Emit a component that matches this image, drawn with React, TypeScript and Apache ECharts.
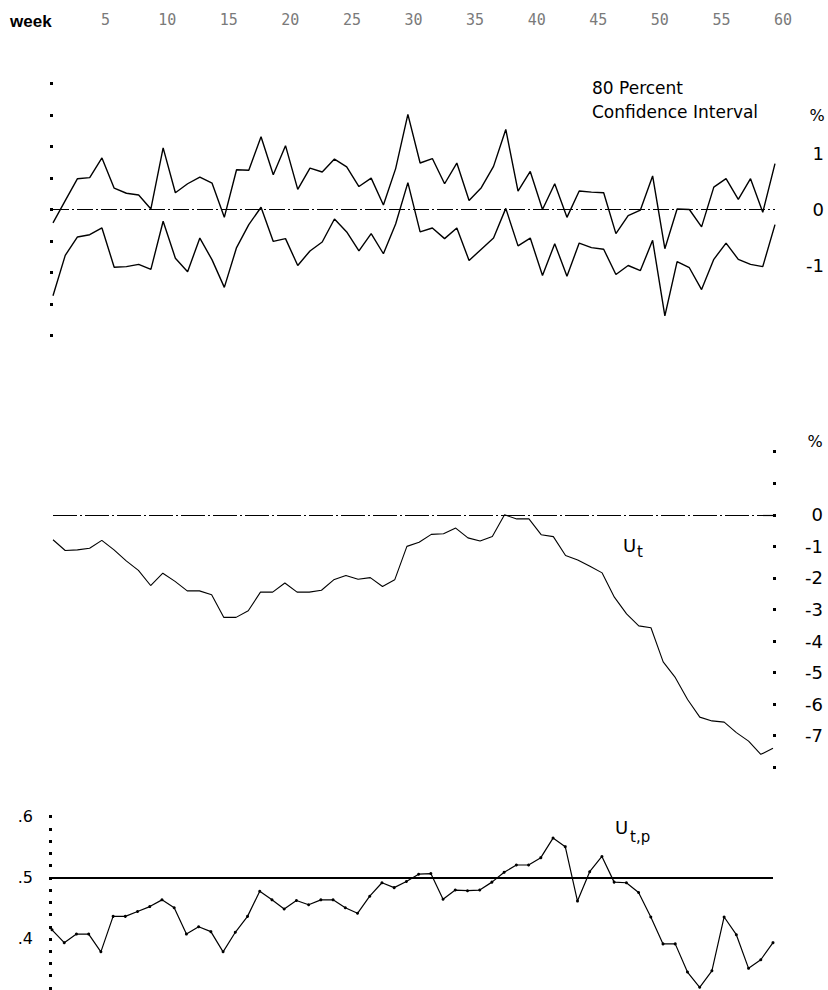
import React, { useEffect, useRef } from "react";
import * as echarts from "echarts";

// ---- data ----
const weeks: number[] = Array.from({ length: 60 }, (_, i) => i + 1);
const weekTicks: number[] = [5, 10, 15, 20, 25, 30, 35, 40, 45, 50, 55, 60];

// 80 percent confidence interval (%)
const upperCI: number[] = [
  -0.24, 0.16, 0.55, 0.57, 0.92, 0.38, 0.29, 0.26, 0.01, 1.1,
  0.3, 0.46, 0.58, 0.47, -0.14, 0.71, 0.7, 1.3, 0.62, 1.14,
  0.36, 0.74, 0.67, 0.9, 0.76, 0.41, 0.56, 0.08, 0.73, 1.7,
  0.83, 0.91, 0.46, 0.83, 0.16, 0.39, 0.77, 1.43, 0.33, 0.68,
  0.0, 0.46, -0.14, 0.33, 0.31, 0.3, -0.43, -0.11, -0.01, 0.6,
  -0.7, 0.01, 0.0, -0.31, 0.4, 0.55, 0.18, 0.55, -0.05, 0.82,
];
const lowerCI: number[] = [
  -1.54, -0.82, -0.49, -0.45, -0.33, -1.03, -1.02, -0.98, -1.07, -0.21,
  -0.87, -1.11, -0.51, -0.9, -1.39, -0.68, -0.27, 0.04, -0.57, -0.52,
  -1.0, -0.74, -0.58, -0.17, -0.4, -0.74, -0.43, -0.79, -0.26, 0.48,
  -0.4, -0.33, -0.52, -0.33, -0.91, -0.71, -0.51, 0.02, -0.65, -0.51,
  -1.18, -0.61, -1.19, -0.6, -0.68, -0.71, -1.16, -1.0, -1.09, -0.55,
  -1.9, -0.93, -1.04, -1.43, -0.89, -0.6, -0.89, -0.98, -1.02, -0.27,
];
// U_t (%)
const ut: number[] = [
  -0.79, -1.13, -1.11, -1.06, -0.81, -1.11, -1.46, -1.76, -2.24, -1.85,
  -2.11, -2.41, -2.41, -2.53, -3.25, -3.25, -3.04, -2.45, -2.45, -2.16,
  -2.45, -2.45, -2.39, -2.06, -1.92, -2.04, -1.99, -2.27, -2.06, -1.0,
  -0.87, -0.62, -0.6, -0.42, -0.73, -0.83, -0.69, 0.0, -0.13, -0.13,
  -0.63, -0.69, -1.29, -1.43, -1.63, -1.84, -2.61, -3.14, -3.52, -3.58,
  -4.66, -5.16, -5.85, -6.41, -6.53, -6.57, -6.9, -7.17, -7.59, -7.4,
];
// U_t,p
const utp: number[] = [
  0.415, 0.394, 0.408, 0.408, 0.379, 0.437, 0.437, 0.445, 0.453, 0.464,
  0.451, 0.408, 0.42, 0.412, 0.379, 0.411, 0.437, 0.478, 0.464, 0.449,
  0.463, 0.456, 0.464, 0.464, 0.451, 0.442, 0.47, 0.492, 0.484, 0.494,
  0.506, 0.507, 0.465, 0.48, 0.479, 0.48, 0.493, 0.509, 0.521, 0.521,
  0.533, 0.565, 0.551, 0.462, 0.51, 0.535, 0.493, 0.492, 0.476, 0.436,
  0.392, 0.392, 0.346, 0.321, 0.348, 0.436, 0.407, 0.352, 0.366, 0.394,
];

const FONT = '"DejaVu Sans", "Liberation Sans", sans-serif';

function pairs(vals: number[]) {
  return weeks.map((w, i) => [w, vals[i]]);
}

export default function App() {
  const ref = useRef<HTMLDivElement>(null);

  useEffect(() => {
    if (!ref.current) return;
    const chart = echarts.init(ref.current, undefined, { renderer: "svg" });

    const hiddenX = (gridIndex: number) => ({
      type: "value" as const,
      gridIndex,
      min: 1,
      max: 60,
      show: false,
      splitLine: { show: false },
    });

    const dotTick = { show: true, length: 3, inside: false, lineStyle: { color: "#000", width: 3 } };

    const text = (t: string, x: number, y: number, font: string, align = "left") => ({
      type: "text",
      x,
      y,
      silent: true,
      style: {
        text: t,
        font,
        fill: "#000",
        textAlign: align,
        align,
        textVerticalAlign: "middle",
        verticalAlign: "middle",
      },
    });

    const option: any = {
      animation: false,
      backgroundColor: "#fff",
      textStyle: { fontFamily: FONT, color: "#000" },
      grid: [
        { left: 44, right: 45, top: 29, height: 1 },
        { left: 53, right: 53, top: 83.5, height: 252 },
        { left: 53, right: 55, top: 451.7, height: 315.6 },
        { left: 52, right: 55, top: 816.7, height: 171.2 },
      ],
      xAxis: [
        {
          type: "value",
          gridIndex: 0,
          position: "top",
          min: 0,
          max: 60,
          interval: 5,
          axisLine: { show: false },
          axisTick: { show: false },
          splitLine: { show: false },
          axisLabel: {
            margin: 2,
            fontFamily: '"DejaVu Sans Mono", monospace',
            fontSize: 15,
            color: "#7a7a7a",
            formatter: (v: number) => (weekTicks.indexOf(v) >= 0 ? String(v) : ""),
          },
        },
        hiddenX(1),
        hiddenX(2),
        hiddenX(3),
      ],
      yAxis: [
        { type: "value", gridIndex: 0, show: false, splitLine: { show: false } },
        // panel 1 labels (right)
        {
          type: "value",
          gridIndex: 1,
          position: "right",
          min: -2.25,
          max: 2.25,
          interval: 0.25,
          axisLine: { show: false },
          axisTick: { show: false },
          splitLine: { show: false },
          axisLabel: {
            align: "right",
            margin: 49,
            fontSize: 18,
            color: "#000",
            formatter: (v: number) =>
              Number.isInteger(v) && Math.abs(v) <= 1 ? String(v) : "",
          },
        },
        // panel 1 dots (left)
        {
          type: "value",
          gridIndex: 1,
          position: "left",
          min: -4,
          max: 4,
          interval: 1,
          axisLine: { show: false },
          axisTick: dotTick,
          splitLine: { show: false },
          axisLabel: { show: false },
        },
        // panel 2 (right, dots + labels)
        {
          type: "value",
          gridIndex: 2,
          position: "right",
          min: -8,
          max: 2,
          interval: 1,
          axisLine: { show: false },
          axisTick: dotTick,
          splitLine: { show: false },
          axisLabel: {
            align: "right",
            margin: 50,
            fontSize: 18,
            color: "#000",
            formatter: (v: number) => (v <= 0 && v >= -7 ? String(v) : ""),
          },
        },
        // panel 3 (left, dots + labels)
        {
          type: "value",
          gridIndex: 3,
          position: "left",
          min: 0.32,
          max: 0.6,
          interval: 0.02,
          axisLine: { show: false },
          axisTick: dotTick,
          splitLine: { show: false },
          axisLabel: {
            margin: 19,
            fontSize: 16,
            color: "#000",
            formatter: (v: number) => {
              const r = Math.round(v * 100);
              return r % 10 === 0 ? "." + r / 10 : "";
            },
          },
        },
      ],
      series: [
        {
          type: "line",
          name: "upper",
          xAxisIndex: 1,
          yAxisIndex: 1,
          data: pairs(upperCI),
          symbol: "none",
          lineStyle: { color: "#000", width: 1.4 },
          markLine: {
            silent: true,
            symbol: "none",
            label: { show: false },
            lineStyle: { color: "#000", width: 1.2, type: [16, 3, 2, 3] },
            data: [{ yAxis: 0 }],
          },
        },
        {
          type: "line",
          name: "lower",
          xAxisIndex: 1,
          yAxisIndex: 1,
          data: pairs(lowerCI),
          symbol: "none",
          lineStyle: { color: "#000", width: 1.4 },
        },
        {
          type: "line",
          name: "ut",
          xAxisIndex: 2,
          yAxisIndex: 3,
          data: pairs(ut),
          symbol: "none",
          lineStyle: { color: "#000", width: 1.1 },
          markLine: {
            silent: true,
            symbol: "none",
            label: { show: false },
            lineStyle: { color: "#000", width: 1.2, type: [24, 3, 2, 3] },
            data: [{ yAxis: 0 }],
          },
        },
        {
          type: "line",
          name: "utp",
          xAxisIndex: 3,
          yAxisIndex: 4,
          data: pairs(utp),
          symbol: "circle",
          symbolSize: 3,
          itemStyle: { color: "#000" },
          lineStyle: { color: "#000", width: 1.2 },
          markLine: {
            silent: true,
            symbol: "none",
            label: { show: false },
            lineStyle: { color: "#000", width: 2, type: "solid" },
            data: [{ yAxis: 0.5 }],
          },
        },
      ],
      graphic: [
        text("week", 10, 21, 'bold 17px "Liberation Sans", sans-serif'),
        text("80 Percent", 592, 88, `17px ${FONT}`),
        text("Confidence Interval", 592, 112, `17px ${FONT}`),
        text("%", 817, 115, `16px ${FONT}`, "center"),
        text("%", 815, 441, `16px ${FONT}`, "center"),
        text("U", 623, 545, `18px ${FONT}`),
        text("t", 637, 552, `15px ${FONT}`),
        text("U", 615, 827, `18px ${FONT}`),
        text("t,p", 630, 837, `15px ${FONT}`),
      ],
    };

    chart.setOption(option);
    return () => chart.dispose();
  }, []);

  return (
    <div
      ref={ref}
      style={{ position: "absolute", left: 0, top: 0, width: 828, height: 990, background: "#fff" }}
    />
  );
}
